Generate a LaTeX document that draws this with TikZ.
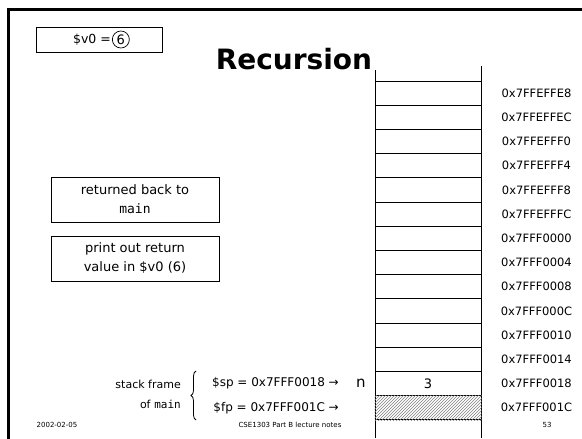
\documentclass[tikz,border=0pt]{standalone}
\usepackage{fontspec}
\setmainfont{DejaVu Sans}
\setmonofont{DejaVu Sans Mono}
\usetikzlibrary{positioning,patterns,decorations.pathreplacing}

\begin{document}
\begin{tikzpicture}[
    x=1pt,y=-1pt,
    cell/.style   = {rectangle,draw,line width=1pt,minimum width=106pt,
                     minimum height=24.2pt,inner sep=0pt},
    addr/.style   = {font=\fontsize{11.5}{13}\selectfont,inner sep=0pt},
    note/.style   = {rectangle,draw,line width=0.8pt,align=center,
                     minimum width=168pt,minimum height=45pt,inner sep=0pt,
                     font=\fontsize{13}{19}\selectfont},
    regtxt/.style = {font=\fontsize{12}{14}\selectfont,inner sep=0pt},
    foot/.style   = {font=\fontsize{7}{8}\selectfont,inner sep=0pt},
  ]
  \useasboundingbox (0,0) rectangle (582,439);

  % slide frame
  \draw[line width=3pt] (8.5,439) -- (8.5,9.5) -- (582,9.5);

  \node[rectangle,draw,line width=0.8pt,minimum width=126pt,minimum height=25pt]
       (vzero) at (99,39.5) {};
  \node[font=\fontsize{12.5}{15}\selectfont,anchor=east,inner sep=0pt] (vname)
       at (111,39.5) {\$v0 =};
  \node[circle,draw,line width=0.7pt,minimum size=17pt,inner sep=0pt,
        font=\fontsize{13}{15}\selectfont,right=1pt of vname] (six) {6};

  \node[font=\bfseries\fontsize{28}{32}\selectfont,anchor=base] (title) at (294,69)
       {Recursion};

  % the stack
  \draw[line width=1pt] (375,70) -- (375,438);
  \draw[line width=1pt] (481,66) -- (481,438);
  \foreach \adr [count=\i] in {7FFEFFE8,7FFEFFEC,7FFEFFF0,7FFEFFF4,7FFEFFF8,
                               7FFEFFFC,7FFF0000,7FFF0004,7FFF0008,7FFF000C,
                               7FFF0010,7FFF0014,7FFF0018,7FFF001C}{
    \node[cell] (r\i) at (428,68.9+24.2*\i) {};
    \node[addr] (a\i) at (536.5,68.9+24.2*\i) {0x\adr};
  }
  \path[pattern=north east lines,pattern color=gray] (r14.south west) rectangle
       (r14.north east);
  \node[font=\fontsize{13}{15}\selectfont] (val) at (r13) {3};

  \node[note] (back)  at (135,199.5) {returned back to\\\texttt{main}};
  \node[note] (print) at (135,258.5) {print out return\\value in \$v0 (6)};

  % registers of main
  \node[font=\fontsize{15}{17}\selectfont,inner sep=0pt] (n) at (361,383) {n};
  \node[regtxt,anchor=east] (sp) at (339,383.5) {\$sp = 0x7FFF0018 →};
  \node[regtxt,anchor=east] (fp) at (339,408) {\$fp = 0x7FFF001C →};
  \node[align=right,anchor=east,inner sep=0pt,
        font=\fontsize{11}{20}\selectfont] (frame) at (181,394)
       {stack frame\\of \texttt{main}};
  \draw[decorate,decoration={brace,amplitude=5pt,mirror,raise=0pt},line width=0.8pt]
       (196,371) -- (196,420);

  \node[foot] (date)  at (57,425) {2002-02-05};
  \node[foot] (notes) at (290,425) {CSE1303 Part B lecture notes};
  \node[foot] (page)  at (547,425) {53};
\end{tikzpicture}
\end{document}
